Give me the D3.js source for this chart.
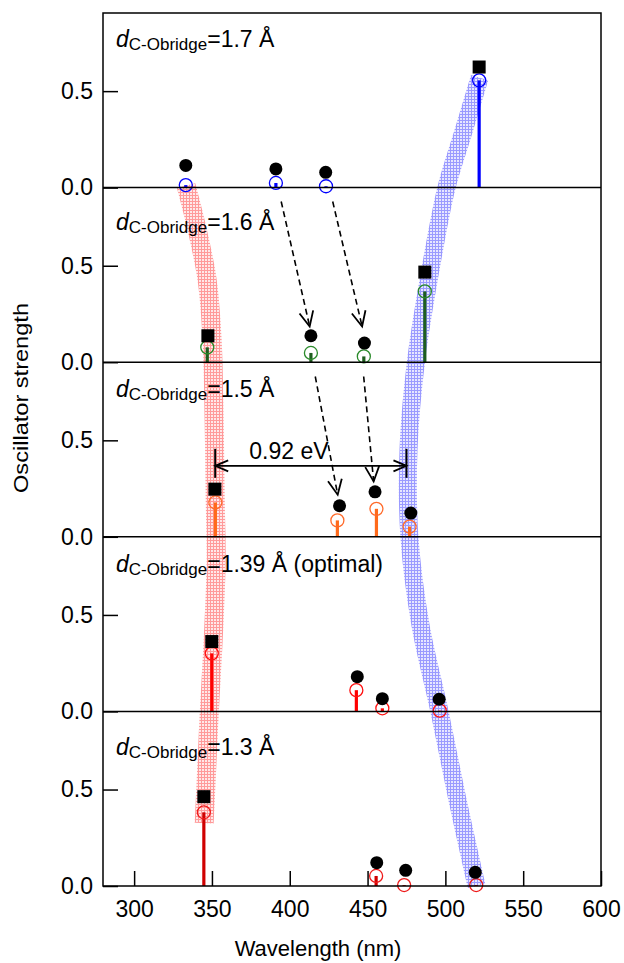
<!DOCTYPE html>
<html><head><meta charset="utf-8">
<script src="https://cdn.jsdelivr.net/npm/d3@7"></script>
<style>body{margin:0;background:#fff} svg{display:block} text{font-family:"Liberation Sans",Arial,sans-serif;fill:#000}</style>
</head><body><svg id="c" width="624" height="963"></svg>
<script>
// ---------------- data ----------------
const panelDistances = ["1.7", "1.6", "1.5", "1.39", "1.3"];
const panelSuffix = [" Å", " Å", " Å", " Å (optimal)", " Å"];
const xTicks = [300, 350, 400, 450, 500, 550, 600];
const yTicks = [0.0, 0.5];

// black markers: [wavelength, strength, shape]
const black17 = [[333.2, 0.115, "c"], [391.1, 0.097, "c"], [423.1, 0.079, "c"], [521.7, 0.625, "s"]];
const black16 = [[347.4, 0.137, "s"], [413.6, 0.137, "c"], [448.0, 0.099, "c"], [486.8, 0.467, "s"]];
const black15 = [[351.9, 0.247, "s"], [432.0, 0.161, "c"], [454.8, 0.233, "c"], [477.8, 0.123, "c"]];
const black139 = [[349.9, 0.362, "s"], [443.4, 0.180, "c"], [459.5, 0.066, "c"], [496.0, 0.063, "c"]];
const black13 = [[344.8, 0.463, "s"], [455.9, 0.121, "c"], [474.5, 0.081, "c"], [519.2, 0.071, "c"]];

// open circles with stems: [wavelength, strength]
const open17 = [[333.2, 0.013], [391.1, 0.024], [423.3, 0.007], [521.7, 0.556]];
const open16 = [[347.0, 0.077], [413.6, 0.048], [447.6, 0.030], [486.8, 0.367]];
const open15 = [[352.2, 0.178], [430.6, 0.085], [455.7, 0.145], [477.0, 0.053]];
const open139 = [[349.9, 0.301], [442.8, 0.110], [459.5, 0.016], [496.4, 0.004]];
const open13 = [[344.8, 0.382], [455.5, 0.052], [473.5, 0.005], [519.8, 0.005]];

// band guide points: [panel, wavelength, strength]
const redBand = [[0, 333.4, 0.01], [1, 340.5, 0.687], [1, 346.9, 0.427], [1, 350.1, 0.117], [2, 351.4, 0.606],
  [2, 352.1, 0.192], [3, 352.7, 0.785], [3, 350.8, 0.37], [4, 348.2, 0.886], [4, 346.3, 0.549], [4, 345.0, 0.326]];
const blueBand = [[0, 522.0, 0.57], [0, 511.0, 0.275], [0, 500.7, 0.0], [1, 490.4, 0.479], [1, 481.4, 0.023],
  [2, 476.3, 0.451], [2, 476.9, 0.0], [3, 484.0, 0.448], [3, 496.2, 0.0], [4, 507.8, 0.446], [4, 520.0, 0.0]];

// dashed arrows: [panel, wl0, f0, wl1, f1]
const dashedArrows = [[1, 394.5, 0.833, 412.8, 0.185], [1, 427.6, 0.833, 446.5, 0.185],
  [2, 416.4, 0.831, 430.8, 0.218], [2, 447.5, 0.831, 453.9, 0.287]];
// gap arrow: panel, wl0, wl1, strength level; label position [wl, strength]
const gapArrow = [2, 352.1, 475.0, 0.368];
const gapLabelPos = [399.5, 0.405];
const gapLabel = "0.92 eV";

// ---------------- layout ----------------
const blacks = [black17, black16, black15, black139, black13];
const opens = [open17, open16, open15, open139, open13];
const colors = [
  {stem: "#0000ff", ring: "#0000ff"},
  {stem: "#1e5e1e", ring: "#2a8a2a"},
  {stem: "#ff6a1a", ring: "#ff6a2a"},
  {stem: "#ff0000", ring: "#ff1010"},
  {stem: "#d00000", ring: "#ee1a1a"}
];
const mL = 103, mR = 601, mT = 13, mB = 886;
const nP = 5, pH = (mB - mT) / nP;
const labelOffsets = [34, 42, 35, 35, 44];

const svg = d3.select("#c");
const x = d3.scaleLinear().domain([280, 600]).range([mL, mR]);
const y = d3.scaleLinear().domain([0, 0.905]).range([pH, 0]);
const pTop = i => mT + i * pH;
const gy = (p, v) => pTop(p) + y(v);

// patterns
const defs = svg.append("defs");
function hatch(id, bg, fg) {
  const p = defs.append("pattern").attr("id", id).attr("width", 3).attr("height", 3)
    .attr("patternUnits", "userSpaceOnUse");
  p.append("rect").attr("width", 3).attr("height", 3).attr("fill", bg);
  p.append("rect").attr("width", 3).attr("height", 1).attr("fill", fg);
  p.append("rect").attr("width", 1).attr("height", 3).attr("fill", fg);
}
hatch("redH", "#ffe8e8", "#ff9a9a");
hatch("blueH", "#e6e6ff", "#9a9aff");

const line = d3.line().x(d => x(d[1])).y(d => gy(d[0], d[2])).curve(d3.curveCatmullRom);
svg.append("path").attr("d", line(redBand)).attr("fill", "none")
  .attr("stroke", "url(#redH)").attr("stroke-width", 19);
svg.append("path").attr("d", line(blueBand)).attr("fill", "none")
  .attr("stroke", "url(#blueH)").attr("stroke-width", 18);

// panels
for (let i = 0; i < nP; i++) {
  const g = svg.append("g").attr("transform", `translate(0,${pTop(i)})`);
  g.selectAll("line.stem").data(opens[i]).join("line").attr("class", "stem")
    .attr("x1", d => x(d[0])).attr("x2", d => x(d[0]))
    .attr("y1", y(0)).attr("y2", d => y(d[1]))
    .attr("stroke", colors[i].stem).attr("stroke-width", 3.2);
  g.selectAll("circle.open").data(opens[i]).join("circle").attr("class", "open")
    .attr("cx", d => x(d[0])).attr("cy", d => y(d[1])).attr("r", 6.5)
    .attr("fill", "none").attr("stroke", colors[i].ring).attr("stroke-width", 1.3);
  g.selectAll("circle.bk").data(blacks[i].filter(d => d[2] === "c")).join("circle").attr("class", "bk")
    .attr("cx", d => x(d[0])).attr("cy", d => y(d[1])).attr("r", 6.5).attr("fill", "#000");
  g.selectAll("rect.bk").data(blacks[i].filter(d => d[2] === "s")).join("rect").attr("class", "bk")
    .attr("x", d => x(d[0]) - 6.5).attr("y", d => y(d[1]) - 6.5).attr("width", 13).attr("height", 13)
    .attr("fill", "#000");
  const ya = g.append("g").attr("transform", `translate(${mL},0)`)
    .call(d3.axisLeft(y).tickValues(yTicks).tickFormat(d3.format(".1f")).tickSizeInner(-15).tickSizeOuter(0).tickPadding(10));
  ya.select(".domain").remove();
  ya.selectAll("line").attr("stroke", "#000").attr("stroke-width", 1.5);
  ya.selectAll("text").attr("font-size", 23).attr("font-family", "'Liberation Sans',Arial,sans-serif");
  if (i < nP - 1) g.append("line").attr("x1", mL).attr("x2", mR).attr("y1", y(0)).attr("y2", y(0))
    .attr("stroke", "#000").attr("stroke-width", 1.5);
  const t = g.append("text").attr("x", 116).attr("y", labelOffsets[i]).attr("font-size", 23);
  t.append("tspan").attr("font-style", "italic").text("d");
  t.append("tspan").attr("font-size", 17).attr("dy", 3).text("C-Obridge");
  t.append("tspan").attr("dy", -3).text("=" + panelDistances[i] + panelSuffix[i]);
}

// frame
svg.append("rect").attr("x", mL).attr("y", mT).attr("width", mR - mL).attr("height", mB - mT)
  .attr("fill", "none").attr("stroke", "#000").attr("stroke-width", 1.5);

// x axis
const xa = svg.append("g").attr("transform", `translate(0,${mB})`)
  .call(d3.axisBottom(x).tickValues(xTicks).tickSizeInner(-15).tickSizeOuter(0).tickPadding(15));
xa.select(".domain").remove();
xa.selectAll("line").attr("stroke", "#000").attr("stroke-width", 1.5);
xa.selectAll("text").attr("font-size", 23).attr("font-family", "'Liberation Sans',Arial,sans-serif");

// axis titles
svg.append("text").attr("x", 318).attr("y", 956).attr("text-anchor", "middle").attr("font-size", 22)
  .text("Wavelength (nm)");
svg.append("text").attr("transform", "translate(28,398) rotate(-90)").attr("text-anchor", "middle")
  .attr("font-size", 21).attr("textLength", 190).attr("lengthAdjust", "spacingAndGlyphs")
  .text("Oscillator strength");

// arrows
function vHead(x1, y1, x0, y0, len, half) {
  const dx = x1 - x0, dy = y1 - y0, L = Math.hypot(dx, dy), ux = dx / L, uy = dy / L;
  const bx = x1 - ux * len, by = y1 - uy * len;
  return `M${bx - uy * half},${by + ux * half}L${x1},${y1}L${bx + uy * half},${by - ux * half}`;
}
dashedArrows.forEach(a => {
  const x0 = x(a[1]), y0 = gy(a[0], a[2]), x1 = x(a[3]), y1 = gy(a[0], a[4]);
  svg.append("line").attr("x1", x0).attr("y1", y0).attr("x2", x1).attr("y2", y1)
    .attr("stroke", "#000").attr("stroke-width", 1.6).attr("stroke-dasharray", "6,4");
  svg.append("path").attr("d", vHead(x1, y1, x0, y0, 15, 7)).attr("fill", "none")
    .attr("stroke", "#000").attr("stroke-width", 1.8);
});

{
  const [p, w0, w1, v] = gapArrow;
  const xa0 = x(w0), xa1 = x(w1), ya0 = gy(p, v);
  svg.append("line").attr("x1", xa0).attr("x2", xa1).attr("y1", ya0).attr("y2", ya0)
    .attr("stroke", "#000").attr("stroke-width", 1.8);
  svg.append("path").attr("d", vHead(xa0, ya0, xa1, ya0, 13, 5.5)).attr("fill", "none").attr("stroke", "#000").attr("stroke-width", 1.8);
  svg.append("path").attr("d", vHead(xa1, ya0, xa0, ya0, 13, 5.5)).attr("fill", "none").attr("stroke", "#000").attr("stroke-width", 1.8);
  [xa0, xa1].forEach(xx => svg.append("line").attr("x1", xx).attr("x2", xx).attr("y1", ya0 - 17).attr("y2", ya0 + 12)
    .attr("stroke", "#000").attr("stroke-width", 2));
  svg.append("text").attr("x", x(gapLabelPos[0])).attr("y", gy(p, gapLabelPos[1])).attr("text-anchor", "middle")
    .attr("font-size", 23).text(gapLabel);
}
</script></body></html>
